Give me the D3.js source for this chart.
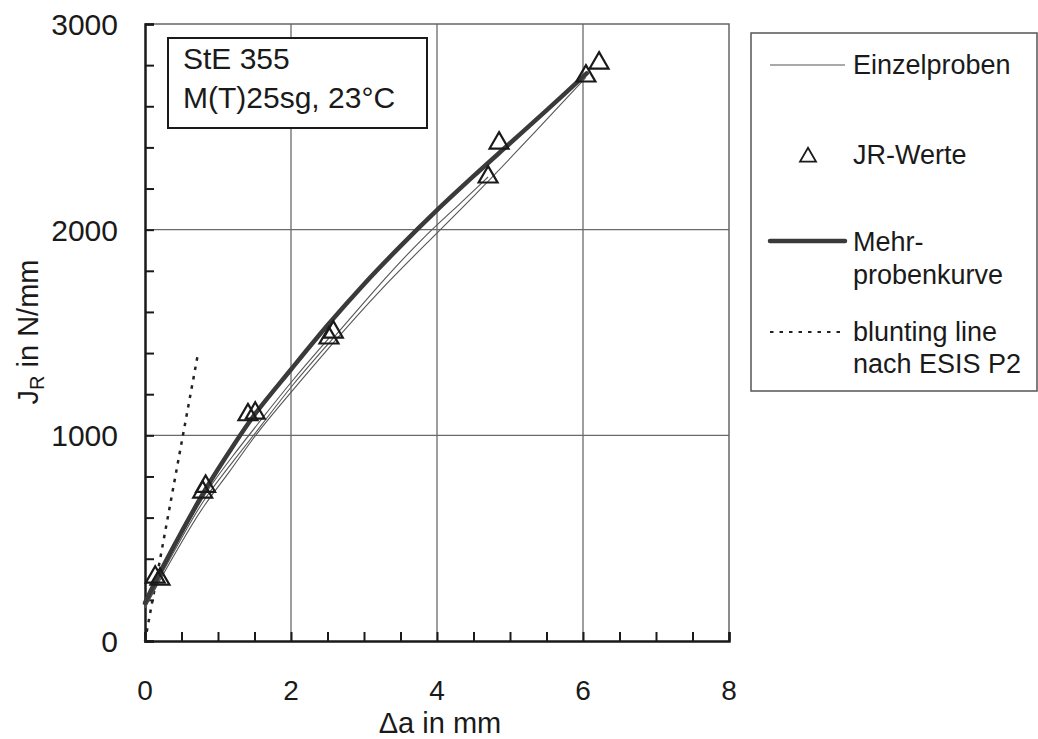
<!DOCTYPE html>
<html>
<head>
<meta charset="utf-8">
<script src="https://cdn.jsdelivr.net/npm/d3@7"></script>
<style>
  html, body { margin: 0; padding: 0; background: #fff; }
  svg { display: block; font-family: "Liberation Sans", Arial, Helvetica, sans-serif; }
</style>
</head>
<body>
<svg id="chart" width="1038" height="739"></svg>
<script>
// ---- data ----
const xTicks = [0, 2, 4, 6, 8];
const yTicks = [0, 1000, 2000, 3000];
const xGrid = [2, 4, 6];
const yGrid = [1000, 2000];

// JR-Werte (triangles): [Δa in mm, J in N/mm]
const jrDa = [0.14, 0.205, 0.79, 0.83, 1.41, 1.51, 2.52, 2.58, 4.70, 4.85, 6.04, 6.22];
const jrJ  = [310, 300, 724, 752, 1100, 1108, 1473, 1502, 2256, 2421, 2747, 2810];

// Mehrprobenkurve (thick curve)
const mehrDa = [0, 0.2, 0.5, 0.85, 1.2, 1.5, 2.0, 2.5, 3.0, 3.5, 4.0, 4.5, 5.0, 5.5, 6.05];
const mehrJ  = [185, 330, 530, 750, 945, 1100, 1320, 1535, 1735, 1920, 2095, 2260, 2420, 2580, 2760];

// Einzelproben (thin curves of single specimens)
const einzelA_Da = [0, 0.2, 0.5, 0.8, 1.16, 1.5, 2.0, 2.6, 3.2, 3.86, 4.5, 5.2, 6.04];
const einzelA_J  = [160, 295, 480, 660, 820, 1000, 1210, 1460, 1700, 1935, 2160, 2420, 2740];
const einzelB_Da = [0, 0.2, 0.5, 0.8, 1.2, 1.6, 2.0, 2.6, 3.2, 3.8, 4.3, 4.7];
const einzelB_J  = [170, 310, 500, 690, 870, 1050, 1240, 1480, 1730, 1960, 2120, 2256];
const einzelC_Da = [0, 0.2, 0.5, 0.8, 1.2, 1.6, 2.0, 2.52];
const einzelC_J  = [180, 320, 515, 710, 900, 1080, 1260, 1473];
const einzelD_Da = [0, 0.3, 0.8, 1.1, 1.5];
const einzelD_J  = [175, 390, 730, 900, 1108];
const einzelE_Da = [0, 0.3, 0.6, 0.8];
const einzelE_J  = [170, 385, 590, 730];
const einzelF_Da = [0, 0.2];
const einzelF_J  = [160, 300];

// blunting line nach ESIS P2
const bluntDa = [0, 0.73];
const bluntJ  = [0, 1405];

const legendLabels = [["Einzelproben"], ["JR-Werte"], ["Mehr-", "probenkurve"], ["blunting line", "nach ESIS P2"]];
const noteLines = ["StE 355", "M(T)25sg, 23°C"];

// ---- drawing ----
const svg = d3.select("#chart");
const x = d3.scaleLinear().domain([0, 8]).range([145, 729]);
const y = d3.scaleLinear().domain([0, 3000]).range([641, 24]);
const zip = (a, b) => a.map((v, i) => [v, b[i]]);
const thickLine = d3.line().x(d => x(d[0])).y(d => y(d[1])).curve(d3.curveCatmullRom.alpha(0.5));
const thinLine = d3.line().x(d => x(d[0])).y(d => y(d[1])).curve(d3.curveBasis);

// grid
svg.append("g").selectAll("line").data(xGrid).join("line")
  .attr("x1", d => x(d)).attr("x2", d => x(d)).attr("y1", y(0)).attr("y2", y(3000))
  .attr("stroke", "#6a6a6a").attr("stroke-width", 1.3);
svg.append("g").selectAll("line").data(yGrid).join("line")
  .attr("x1", x(0)).attr("x2", x(8)).attr("y1", d => y(d)).attr("y2", d => y(d))
  .attr("stroke", "#6a6a6a").attr("stroke-width", 1.3);
// top & right frame
svg.append("path")
  .attr("d", `M${x(0)},${y(3000)}H${x(8)}V${y(0)}`)
  .attr("fill", "none").attr("stroke", "#666").attr("stroke-width", 1.5);

// axes with inward minor ticks
const xAxis = d3.axisTop(x).tickValues(d3.range(0, 8.01, 0.5)).tickSize(9).tickFormat("");
svg.append("g").attr("transform", `translate(0,${y(0)})`).call(xAxis)
  .call(g => g.select(".domain").attr("stroke", "#1a1a1a").attr("stroke-width", 2.5))
  .call(g => g.selectAll(".tick line").attr("stroke", "#1a1a1a").attr("stroke-width", 2));
const yAxis = d3.axisRight(y).tickValues(d3.range(0, 3001, 200)).tickSize(9).tickFormat("");
svg.append("g").attr("transform", `translate(${x(0)},0)`).call(yAxis)
  .call(g => g.select(".domain").attr("stroke", "#1a1a1a").attr("stroke-width", 2.5))
  .call(g => g.selectAll(".tick line").attr("stroke", "#1a1a1a").attr("stroke-width", 2));

// tick labels
svg.append("g").selectAll("text").data(xTicks).join("text")
  .attr("x", d => x(d)).attr("y", 700).attr("text-anchor", "middle")
  .attr("font-size", 28).attr("fill", "#1a1a1a").text(d => d);
svg.append("g").selectAll("text").data(yTicks).join("text")
  .attr("x", 118).attr("y", d => y(d) + 11).attr("text-anchor", "end")
  .attr("font-size", 30).attr("fill", "#1a1a1a").text(d => d);

// axis titles
svg.append("text").attr("x", 440).attr("y", 733).attr("text-anchor", "middle")
  .attr("font-size", 29).attr("fill", "#1a1a1a").text("Δa in mm");
const yt = svg.append("text").attr("transform", "translate(38,332) rotate(-90)")
  .attr("text-anchor", "middle").attr("font-size", 29).attr("fill", "#1a1a1a");
yt.append("tspan").text("J");
yt.append("tspan").attr("font-size", 20).attr("dy", 6).text("R");
yt.append("tspan").attr("dy", -6).text(" in N/mm");

// blunting line
svg.append("path").datum(zip(bluntDa, bluntJ)).attr("d", d3.line().x(d => x(d[0])).y(d => y(d[1])))
  .attr("fill", "none").attr("stroke", "#222").attr("stroke-width", 2.5).attr("stroke-dasharray", "3.5,6");

// Einzelproben thin curves
const einzel = [
  zip(einzelA_Da, einzelA_J), zip(einzelB_Da, einzelB_J), zip(einzelC_Da, einzelC_J),
  zip(einzelD_Da, einzelD_J), zip(einzelE_Da, einzelE_J), zip(einzelF_Da, einzelF_J)
];
svg.append("g").selectAll("path").data(einzel).join("path")
  .attr("d", thinLine).attr("fill", "none").attr("stroke", "#555").attr("stroke-width", 1.1);

// Mehrprobenkurve
svg.append("path").datum(zip(mehrDa, mehrJ)).attr("d", thickLine)
  .attr("fill", "none").attr("stroke", "#3a3a3a").attr("stroke-width", 4.5).attr("stroke-linecap", "round");

// JR triangles
const tri = d3.symbol().type(d3.symbolTriangle).size(155);
svg.append("g").selectAll("path").data(zip(jrDa, jrJ)).join("path")
  .attr("d", tri).attr("transform", d => `translate(${x(d[0])},${y(d[1])})`)
  .attr("fill", "none").attr("stroke", "#1a1a1a").attr("stroke-width", 2.2);

// annotation box
svg.append("rect").attr("x", 168).attr("y", 38).attr("width", 259).attr("height", 90)
  .attr("fill", "#fff").attr("stroke", "#1a1a1a").attr("stroke-width", 2);
svg.append("g").selectAll("text").data(noteLines).join("text")
  .attr("x", 183).attr("y", (d, i) => 69 + i * 39).attr("font-size", 30).attr("fill", "#1a1a1a").text(d => d);

// legend
const lg = svg.append("g");
lg.append("rect").attr("x", 751).attr("y", 33).attr("width", 286).attr("height", 358)
  .attr("fill", "#fff").attr("stroke", "#555").attr("stroke-width", 1.5);
const lx1 = 770, lx2 = 845, tx = 853;
lg.append("line").attr("x1", lx1).attr("x2", lx2).attr("y1", 65).attr("y2", 65)
  .attr("stroke", "#555").attr("stroke-width", 1.1);
lg.append("path").attr("d", d3.symbol().type(d3.symbolTriangle).size(110))
  .attr("transform", "translate(808,157)").attr("fill", "none").attr("stroke", "#1a1a1a").attr("stroke-width", 1.8);
lg.append("line").attr("x1", lx1).attr("x2", lx2).attr("y1", 241).attr("y2", 241)
  .attr("stroke", "#3a3a3a").attr("stroke-width", 4.5).attr("stroke-linecap", "round");
lg.append("line").attr("x1", lx1).attr("x2", lx2).attr("y1", 332).attr("y2", 332)
  .attr("stroke", "#222").attr("stroke-width", 2).attr("stroke-dasharray", "3.5,6");
const baselines = [[74], [164], [251, 284], [341, 373]];
legendLabels.forEach((lines, i) => {
  lines.forEach((t, j) => {
    lg.append("text").attr("x", tx).attr("y", baselines[i][j]).attr("font-size", 27)
      .attr("fill", "#1a1a1a").text(t);
  });
});
</script>
</body>
</html>
